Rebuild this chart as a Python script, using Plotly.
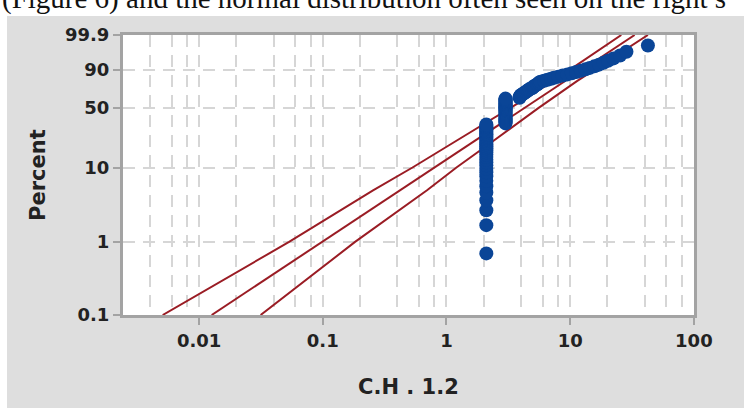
import numpy as np
import plotly.graph_objects as go

# ---------------- data ----------------
tie_values = [2.1, 3.0]          # tied observations forming the two vertical columns
tie_counts = [34, 27]
upper_values = [3.9, 3.9, 3.95, 4.0, 4.1, 4.2, 4.3, 4.4, 4.5, 4.6, 4.7, 4.9, 5.0,
                5.1, 5.2, 5.4, 5.5, 5.6, 5.75, 6.15, 6.55, 7.0, 7.4, 8.0, 8.7, 9.5,
                10.3, 11.2, 12.2, 13.3, 14.4, 15.7, 17.1, 18.6, 20.2, 22.4, 25.3,
                28.5, 42.5]

fit_pct = [0.1, 1, 5, 10, 20, 50, 80, 90, 99, 99.9]
fit_x = [0.01264, 0.0987, 0.421, 0.800, 1.563, 4.28, 9.08, 12.48, 23.09, 33.2]
lower_x = [0.00508, 0.0534, 0.2549, 0.5313, 1.098, 3.30, 7.26, 9.98, 18.48, 25.9]
upper_x = [0.03145, 0.1824, 0.696, 1.204, 2.225, 5.56, 11.34, 15.6, 28.9, 42.5]

y_tick_pct = [0.1, 1, 10, 50, 90, 99.9]
y_tick_text = ["0.1", "1", "10", "50", "90", "99.9"]
x_tick_vals = [0.01, 0.1, 1, 10, 100]
x_tick_text = ["0.01", "0.1", "1", "10", "100"]
x_minor_vals = [m * d for d in [0.001, 0.01, 0.1, 1, 10] for m in (2, 4, 6, 8)]

x_title = "C.H . 1.2"
y_title = "Percent"
page_text = "(Figure 6) and the normal distribution often seen on the right s"

# ---------------- derived ----------------
values = []
for v, c in zip(tie_values, tie_counts):
    values += [v] * c
values += upper_values
n = len(values)
ranks = np.arange(1, n + 1)
pct = (ranks - 0.3) / (n + 0.4) * 100.0   # median ranks


def weib(p):
    p = np.asarray(p, dtype=float) / 100.0
    return np.log(-np.log(1.0 - p))


W, H = 744, 408
L, R, T, B = 123, 50, 35, 93
pw, ph = W - L - R, H - T - B


def px(xp):
    return (xp - L) / pw


def py(yp):
    return (H - B - yp) / ph


fig = go.Figure()
line_col = "#9a1c24"
for xs in (lower_x, fit_x, upper_x):
    fig.add_trace(go.Scatter(x=xs, y=weib(fit_pct), mode="lines",
                             line=dict(color=line_col, width=2), hoverinfo="skip"))
fig.add_trace(go.Scatter(x=values, y=weib(pct), mode="markers",
                         marker=dict(size=14, color="#0a4597", line=dict(width=0))))

grid_col = "#d6d6d6"
dash = "12px,8px"
tickfont = dict(family="DejaVu Sans", size=18, color="#222222")
axis_common = dict(showline=True, mirror=True, linecolor="#a3a3a3", linewidth=3,
                   ticks="outside", ticklen=7, tickwidth=2, tickcolor="#a3a3a3",
                   showgrid=True, gridcolor=grid_col, gridwidth=2, griddash=dash,
                   zeroline=False, tickfont=tickfont)

fig.update_xaxes(type="log", range=[-2.615, 2.001], tickmode="array",
                 tickvals=x_tick_vals, ticktext=["<b>%s</b>" % t for t in x_tick_text],
                 minor=dict(tickvals=x_minor_vals, showgrid=True, gridcolor=grid_col,
                            gridwidth=2, griddash=dash, ticks=""),
                 **axis_common)
fig.update_yaxes(range=[float(weib(0.1)), float(weib(99.9))], tickmode="array",
                 tickvals=weib(y_tick_pct), ticktext=["<b>%s</b>" % t for t in y_tick_text],
                 **axis_common)

fig.update_layout(
    width=W, height=H, margin=dict(l=L, r=R, t=T, b=B, pad=0),
    paper_bgcolor="#dedede", plot_bgcolor="white", showlegend=False,
    font=dict(family="DejaVu Sans"),
    shapes=[
        dict(type="rect", xref="paper", yref="paper", x0=px(-5), x1=px(W + 5),
             y0=py(16), y1=py(-5), fillcolor="white", line_width=0, layer="below"),
        dict(type="rect", xref="paper", yref="paper", x0=px(-5), x1=px(7),
             y0=py(H + 5), y1=py(-5), fillcolor="white", line_width=0, layer="below"),
    ],
    annotations=[
        dict(text="<b>%s</b>" % y_title, xref="paper", yref="paper", x=px(38), y=py(175),
             xanchor="center", yanchor="middle",
             textangle=-90, showarrow=False, font=dict(size=21, color="#222222")),
        dict(text="<b>%s</b>" % x_title, xref="paper", yref="paper", x=px(408), y=py(387),
             xanchor="center", yanchor="middle",
             showarrow=False, font=dict(size=21, color="#222222")),
        dict(text=page_text, xref="paper", yref="paper", x=px(0), y=py(17),
             xanchor="left", yanchor="bottom", showarrow=False,
             font=dict(family="Liberation Serif", size=29, color="#111111")),
    ],
)

fig.write_html("out.html", config={"displayModeBar": False},
               post_script="document.body.style.margin='0';document.body.style.padding='0';")
